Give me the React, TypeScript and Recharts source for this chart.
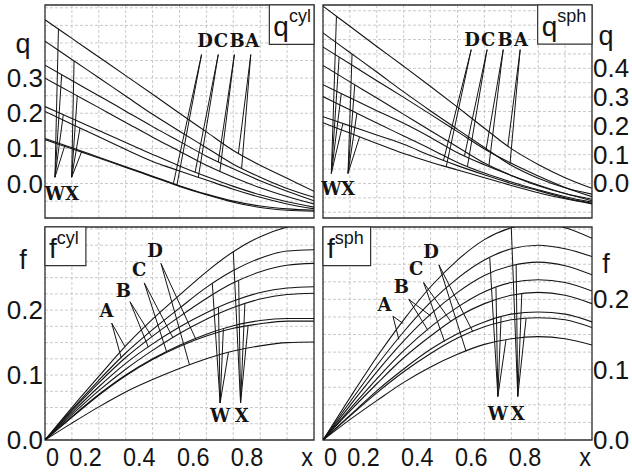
import React from 'react'
import { LineChart, Line, XAxis, YAxis, CartesianGrid, ReferenceArea, ReferenceDot } from 'recharts'

const SANS = '"Liberation Sans", Arial, sans-serif'
const SERIF = '"DejaVu Serif", serif'
const INK = '#141414'

const xs = [0, 0.1, 0.2, 0.3, 0.4, 0.5, 0.6, 0.7, 0.8, 0.9, 1]
const xGrid = [0, 0.1, 0.2, 0.3, 0.4, 0.5, 0.6, 0.7, 0.8, 0.9, 1]
const xLabels = [0, 0.2, 0.4, 0.6, 0.8]

// q, cylinder (W and X variant for each of A..D)
const qCylAW = [0.466, 0.413, 0.36, 0.307, 0.254, 0.2, 0.147, 0.094, 0.052, 0.015, -0.022]
const qCylAX = [0.405, 0.353, 0.301, 0.249, 0.197, 0.149, 0.102, 0.055, 0.018, -0.014, -0.039]
const qCylBW = [0.337, 0.293, 0.25, 0.206, 0.162, 0.12, 0.078, 0.042, 0.008, -0.022, -0.049]
const qCylBX = [0.3, 0.258, 0.216, 0.174, 0.132, 0.092, 0.052, 0.018, -0.012, -0.037, -0.058]
const qCylCW = [0.219, 0.185, 0.151, 0.117, 0.083, 0.05, 0.02, -0.008, -0.032, -0.052, -0.067]
const qCylCX = [0.205, 0.169, 0.133, 0.097, 0.063, 0.036, 0.01, -0.016, -0.039, -0.058, -0.072]
const qCylDW = [0.128, 0.102, 0.075, 0.048, 0.021, -0.006, -0.03, -0.05, -0.064, -0.072, -0.076]
const qCylDX = [0.125, 0.099, 0.073, 0.046, 0.019, -0.008, -0.032, -0.053, -0.068, -0.076, -0.079]

// q, sphere
const qSphAW = [0.616, 0.546, 0.476, 0.407, 0.337, 0.265, 0.192, 0.121, 0.066, 0.02, -0.017]
const qSphAX = [0.523, 0.455, 0.387, 0.318, 0.252, 0.188, 0.125, 0.063, 0.018, -0.015, -0.037]
const qSphBW = [0.474, 0.416, 0.357, 0.299, 0.24, 0.18, 0.12, 0.07, 0.026, -0.014, -0.046]
const qSphBX = [0.41, 0.353, 0.297, 0.24, 0.183, 0.127, 0.071, 0.028, -0.008, -0.035, -0.055]
const qSphCW = [0.343, 0.298, 0.253, 0.209, 0.16, 0.107, 0.065, 0.028, -0.005, -0.035, -0.06]
const qSphCX = [0.302, 0.256, 0.21, 0.165, 0.12, 0.073, 0.036, 0.005, -0.022, -0.046, -0.065]
const qSphDW = [0.232, 0.2, 0.168, 0.136, 0.097, 0.062, 0.03, 0.0, -0.025, -0.05, -0.069]
const qSphDX = [0.211, 0.175, 0.139, 0.104, 0.074, 0.047, 0.02, -0.007, -0.032, -0.053, -0.071]

// f, cylinder
const fCylAX = [0, 0.05, 0.098, 0.145, 0.186, 0.223, 0.259, 0.29, 0.313, 0.328, 0.336]
const fCylAW = [0, 0.047, 0.092, 0.134, 0.17, 0.203, 0.235, 0.261, 0.28, 0.291, 0.293]
const fCylBX = [0, 0.045, 0.088, 0.127, 0.16, 0.19, 0.218, 0.242, 0.259, 0.269, 0.272]
const fCylBW = [0, 0.042, 0.082, 0.118, 0.148, 0.174, 0.196, 0.214, 0.227, 0.234, 0.236]
const fCylCX = [0, 0.039, 0.076, 0.109, 0.138, 0.164, 0.186, 0.204, 0.217, 0.224, 0.226]
const fCylCW = [0, 0.036, 0.07, 0.1, 0.125, 0.146, 0.163, 0.176, 0.184, 0.187, 0.187]
const fCylDX = [0, 0.035, 0.069, 0.099, 0.124, 0.144, 0.16, 0.172, 0.179, 0.183, 0.183]
const fCylDW = [0, 0.026, 0.051, 0.074, 0.093, 0.11, 0.125, 0.137, 0.145, 0.15, 0.151]

// f, sphere
const fSphAX = [0, 0.06, 0.118, 0.171, 0.218, 0.256, 0.285, 0.302, 0.308, 0.302, 0.287]
const fSphAW = [0, 0.054, 0.106, 0.154, 0.196, 0.23, 0.256, 0.272, 0.277, 0.272, 0.261]
const fSphBX = [0, 0.049, 0.097, 0.141, 0.179, 0.21, 0.234, 0.248, 0.253, 0.248, 0.235]
const fSphBW = [0, 0.044, 0.087, 0.127, 0.161, 0.189, 0.211, 0.224, 0.228, 0.224, 0.212]
const fSphCX = [0, 0.041, 0.08, 0.117, 0.148, 0.175, 0.194, 0.206, 0.21, 0.206, 0.194]
const fSphCW = [0, 0.035, 0.07, 0.101, 0.129, 0.151, 0.168, 0.179, 0.182, 0.179, 0.168]
const fSphDX = [0, 0.034, 0.067, 0.097, 0.123, 0.145, 0.161, 0.171, 0.174, 0.171, 0.16]
const fSphDW = [0, 0.029, 0.056, 0.082, 0.104, 0.122, 0.136, 0.144, 0.147, 0.144, 0.135]

// leader fans: start point, then the points on the curves
const qCylFans = [
  { from: [0.582, 0.367], to: [[0.477, -0.001], [0.49, -0.006]] },
  { from: [0.644, 0.367], to: [[0.558, 0.032], [0.57, 0.018]] },
  { from: [0.704, 0.367], to: [[0.644, 0.061], [0.65, 0.034]] },
  { from: [0.765, 0.367], to: [[0.719, 0.086], [0.731, 0.043]] },
  { from: [0.037, 0.018], to: [[0.05, 0.44], [0.062, 0.31], [0.068, 0.196], [0.074, 0.109]] },
  { from: [0.099, 0.018], to: [[0.108, 0.349], [0.12, 0.25], [0.13, 0.158], [0.136, 0.09]] },
]
const qSphFans = [
  { from: [0.551, 0.465], to: [[0.448, 0.08], [0.458, 0.058]] },
  { from: [0.61, 0.465], to: [[0.526, 0.096], [0.537, 0.059]] },
  { from: [0.67, 0.465], to: [[0.606, 0.117], [0.617, 0.064]] },
  { from: [0.733, 0.465], to: [[0.687, 0.13], [0.695, 0.066]] },
  { from: [0.031, 0.035], to: [[0.05, 0.581], [0.06, 0.439], [0.068, 0.312], [0.074, 0.208]] },
  { from: [0.093, 0.035], to: [[0.108, 0.45], [0.118, 0.343], [0.126, 0.244], [0.136, 0.162]] },
]
const fCylFans = [
  { from: [0.248, 0.18], to: [[0.283, 0.127], [0.297, 0.144]] },
  { from: [0.316, 0.213], to: [[0.384, 0.143], [0.397, 0.159]] },
  { from: [0.369, 0.242], to: [[0.452, 0.136], [0.475, 0.158]] },
  { from: [0.431, 0.272], to: [[0.537, 0.116], [0.562, 0.154]] },
  { from: [0.651, 0.057], to: [[0.622, 0.241], [0.645, 0.204], [0.663, 0.171], [0.682, 0.135]] },
  { from: [0.727, 0.057], to: [[0.7, 0.29], [0.72, 0.245], [0.743, 0.21], [0.755, 0.176]] },
]
const fSphFans = [
  { from: [0.26, 0.176], to: [[0.282, 0.143], [0.297, 0.166]] },
  { from: [0.319, 0.2], to: [[0.39, 0.156], [0.402, 0.176]] },
  { from: [0.374, 0.224], to: [[0.452, 0.14], [0.476, 0.168]] },
  { from: [0.431, 0.249], to: [[0.532, 0.126], [0.557, 0.154]] },
  { from: [0.65, 0.062], to: [[0.62, 0.259], [0.643, 0.217], [0.662, 0.175], [0.68, 0.142]] },
  { from: [0.724, 0.062], to: [[0.7, 0.302], [0.718, 0.249], [0.739, 0.208], [0.755, 0.173]] },
]

// letter labels: text, x, baseline value
const qCylLetters = [['D', 0.595, 0.389], ['C', 0.654, 0.389], ['B', 0.714, 0.389], ['A', 0.77, 0.389], ['W', 0.037, -0.047], ['X', 0.1, -0.047]]
const qSphLetters = [['D', 0.554, 0.479], ['C', 0.614, 0.479], ['B', 0.677, 0.479], ['A', 0.736, 0.479], ['W', 0.031, -0.04], ['X', 0.093, -0.04]]
const fCylLetters = [['A', 0.229, 0.189], ['B', 0.291, 0.22], ['C', 0.35, 0.253], ['D', 0.409, 0.282], ['W', 0.651, 0.028], ['X', 0.731, 0.028]]
const fSphLetters = [['A', 0.229, 0.183], ['B', 0.291, 0.209], ['C', 0.346, 0.235], ['D', 0.402, 0.259], ['W', 0.65, 0.029], ['X', 0.724, 0.029]]

const qCylGrid = [-0.05, 0, 0.05, 0.1, 0.15, 0.2, 0.25, 0.3, 0.35, 0.4, 0.45, 0.5]
const qSphGrid = [-0.1, -0.05, 0, 0.05, 0.1, 0.15, 0.2, 0.25, 0.3, 0.35, 0.4, 0.45, 0.5, 0.55, 0.6]
const fCylGrid = [0, 0.025, 0.05, 0.075, 0.1, 0.125, 0.15, 0.175, 0.2, 0.225, 0.25, 0.275, 0.3, 0.325]
const fSphGrid = [0, 0.025, 0.05, 0.075, 0.1, 0.125, 0.15, 0.175, 0.2, 0.225, 0.25, 0.275, 0.3]

const near = (a: number, b: number) => Math.abs(a - b) < 1e-6

const panels = {
  qCyl: {
    curves: [qCylAW, qCylAX, qCylBW, qCylBX, qCylCW, qCylCX, qCylDW, qCylDX],
    fans: qCylFans, letters: qCylLetters, grid: qCylGrid, domain: [-0.098, 0.508],
    labeled: [0, 0.1, 0.2, 0.3], axisName: 'q', axisNameAt: 0.371,
    box: { main: 'q', sup: 'cyl', x1: 0.834, x2: 1, y1: 0.396, y2: 0.508 },
  },
  qSph: {
    curves: [qSphAW, qSphAX, qSphBW, qSphBX, qSphCW, qSphCX, qSphDW, qSphDX],
    fans: qSphFans, letters: qSphLetters, grid: qSphGrid, domain: [-0.12, 0.62],
    labeled: [0, 0.1, 0.2, 0.3, 0.4], axisName: 'q', axisNameAt: 0.481,
    box: { main: 'q', sup: 'sph', x1: 0.798, x2: 1, y1: 0.484, y2: 0.62 },
  },
  fCyl: {
    curves: [fCylAX, fCylAW, fCylBX, fCylBW, fCylCX, fCylCW, fCylDX, fCylDW],
    fans: fCylFans, letters: fCylLetters, grid: fCylGrid, domain: [0, 0.328],
    labeled: [0, 0.1, 0.2], axisName: 'f', axisNameAt: 0.264,
    box: { main: 'f', sup: 'cyl', x1: 0, x2: 0.152, y1: 0.2686, y2: 0.328 },
  },
  fSph: {
    curves: [fSphAX, fSphAW, fSphBX, fSphBW, fSphCX, fSphCW, fSphDX, fSphDW],
    fans: fSphFans, letters: fSphLetters, grid: fSphGrid, domain: [0, 0.303],
    labeled: [0, 0.1, 0.2], axisName: 'f', axisNameAt: 0.237,
    box: { main: 'f', sup: 'sph', x1: 0, x2: 0.177, y1: 0.248, y2: 0.303 },
  },
}

function YTick(props: any) {
  const { x, y, payload, labeled, side } = props
  if (!labeled.some((l: number) => near(l, payload.value))) return null
  return (
    <text x={x} y={y} dy={9} textAnchor={side === 'left' ? 'end' : 'start'}
      fontFamily={SANS} fontSize={26} fill={INK}>
      {payload.value.toFixed(1)}
    </text>
  )
}

function XTick(props: any) {
  const { x, y, payload } = props
  const v = payload.value
  let text = ''
  let anchor = 'end'
  let dx = 3
  if (near(v, 0)) { text = '0'; anchor = 'start'; dx = 1 }
  else if (near(v, 1)) { text = 'x'; anchor = 'end'; dx = -1 }
  else if (xLabels.some((l) => near(l, v))) text = v.toFixed(1)
  if (!text) return null
  // the reference digits are a little narrower than Liberation Sans
  return (
    <g transform={`translate(${x + dx},${y + 26}) scale(0.9,1)`}>
      <text x={0} y={0} textAnchor={anchor} fontFamily={SANS} fontSize={26} fill={INK}>
        {text}
      </text>
    </g>
  )
}

const letterContent = (ch: string) => (props: any) => {
  const { x, y } = props.viewBox
  return (
    <text x={x} y={y} textAnchor="middle" fontFamily={SERIF} fontWeight="bold" fontSize={18} fill={INK}>
      {ch}
    </text>
  )
}

const nameContent = (ch: string, dx: number) => (props: any) => {
  const { x, y } = props.viewBox
  return (
    <text x={x + dx} y={y} textAnchor="middle" fontFamily={SANS} fontSize={27} fill={INK}>
      {ch}
    </text>
  )
}

const boxContent = (main: string, sup: string) => (props: any) => {
  const { x, y, height } = props.viewBox
  return (
    <text x={x + 4} y={y + height - 8} fontFamily={SANS} fontSize={28} fill={INK}>
      {main}
      <tspan dy={-14} fontSize={18}>{sup}</tspan>
    </text>
  )
}

function Panel({ cfg, left, top, side, bottomAxis }: any) {
  const height = bottomAxis ? 252 : 222
  const margin = side === 'left'
    ? { top: 5, right: 2, bottom: bottomAxis ? 0 : 4, left: 0 }
    : { top: 5, right: 0, bottom: bottomAxis ? 0 : 4, left: 7 }
  const curveData = cfg.curves.map((vals: number[]) => xs.map((x, i) => ({ x, y: vals[i] })))
  const segs: any[] = []
  cfg.fans.forEach((fan: any) => {
    fan.to.forEach((p: number[]) => {
      segs.push([{ x: fan.from[0], y: fan.from[1] }, { x: p[0], y: p[1] }])
    })
  })
  return (
    <div style={{ position: 'absolute', left, top }}>
      <LineChart width={316} height={height} margin={margin}>
        <CartesianGrid stroke="#bdbdbd" strokeDasharray="3 2" strokeWidth={0.8} />
        <XAxis type="number" dataKey="x" domain={[0, 1]} ticks={xGrid} interval={0}
          hide={!bottomAxis} height={34} axisLine={false} tickLine={false} tickSize={0} tickMargin={0}
          tick={<XTick />} allowDataOverflow />
        <YAxis type="number" domain={cfg.domain} ticks={cfg.grid} interval={0}
          orientation={side} width={side === 'left' ? 45 : 40} axisLine={false} tickLine={false}
          tickSize={0} tickMargin={side === 'left' ? 2 : 1}
          tick={<YTick labeled={cfg.labeled} side={side} />} allowDataOverflow />
        {curveData.map((d: any, i: number) => (
          <Line key={'c' + i} data={d} dataKey="y" type="monotone" stroke={INK} strokeWidth={1.1}
            dot={false} activeDot={false} isAnimationActive={false} />
        ))}
        {segs.map((d: any, i: number) => (
          <Line key={'s' + i} data={d} dataKey="y" type="linear" stroke={INK} strokeWidth={1}
            dot={false} activeDot={false} isAnimationActive={false} />
        ))}
        <ReferenceArea x1={0} x2={1} y1={cfg.domain[0]} y2={cfg.domain[1]} fill="none"
          stroke="#333" strokeWidth={1.3} ifOverflow="visible" />
        <ReferenceArea x1={cfg.box.x1} x2={cfg.box.x2} y1={cfg.box.y1} y2={cfg.box.y2}
          fill="#fff" fillOpacity={1} stroke="#333" strokeWidth={1.2} ifOverflow="visible"
          label={boxContent(cfg.box.main, cfg.box.sup)} />
        {cfg.letters.map((l: any, i: number) => (
          <ReferenceDot key={'l' + i} x={l[1]} y={l[2]} r={0} fill="none" stroke="none"
            ifOverflow="visible" label={letterContent(l[0])} />
        ))}
        <ReferenceDot x={side === 'left' ? 0 : 1} y={cfg.axisNameAt} r={0} fill="none" stroke="none"
          ifOverflow="visible" label={nameContent(cfg.axisName, side === 'left' ? -22 : 14)} />
      </LineChart>
    </div>
  )
}

export default function App() {
  return (
    <div style={{ position: 'absolute', left: 0, top: 0, width: 632, height: 474, background: '#fff' }}>
      <Panel cfg={panels.qCyl} left={0} top={0} side="left" bottomAxis={false} />
      <Panel cfg={panels.qSph} left={316} top={0} side="right" bottomAxis={false} />
      <Panel cfg={panels.fCyl} left={0} top={222} side="left" bottomAxis />
      <Panel cfg={panels.fSph} left={316} top={222} side="right" bottomAxis />
    </div>
  )
}
